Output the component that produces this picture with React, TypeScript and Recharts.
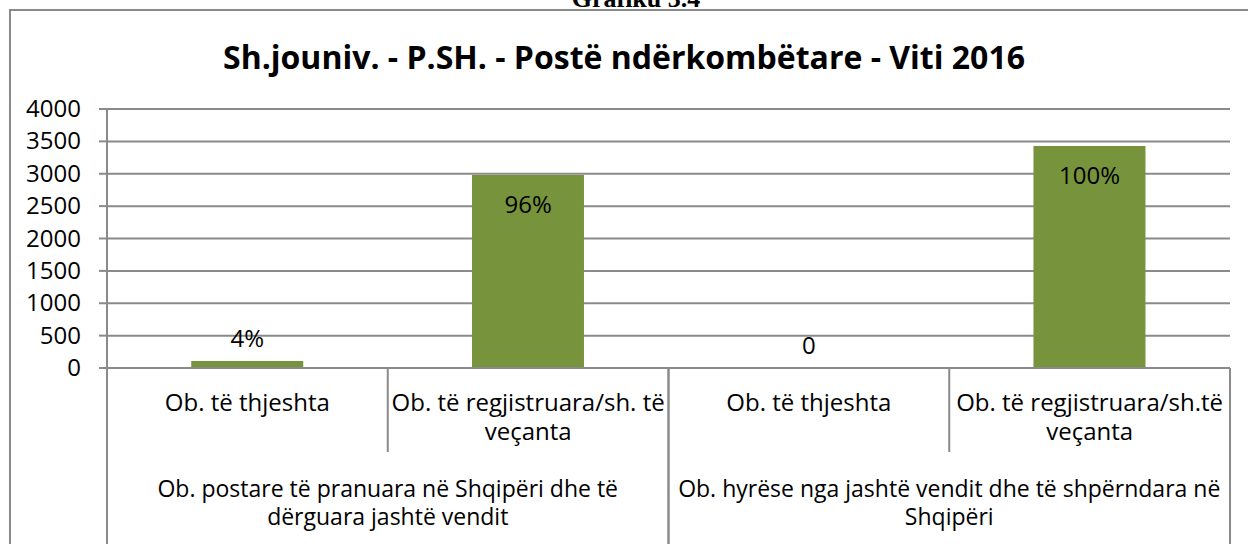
import React from 'react';
import { ComposedChart, Bar, Line, XAxis, YAxis, CartesianGrid, LabelList } from 'recharts';

// categories (leaf level), line breaks as in the original chart
const categories = [
  'Ob. të thjeshta',
  'Ob. të regjistruara/sh. të\nveçanta',
  'Ob. të thjeshta',
  'Ob. të regjistruara/sh.të\nveçanta',
];
const groups = [
  'Ob. postare të pranuara në Shqipëri dhe të\ndërguara jashtë vendit',
  'Ob. hyrëse nga jashtë vendit dhe të shpërndara në\nShqipëri',
];
const groupOf = [0, 0, 1, 1];
const values = [110, 2980, 0, 3430];
const valueLabels = ['4%', '96%', '0', '100%'];
const yTicks = [0, 500, 1000, 1500, 2000, 2500, 3000, 3500, 4000];

const data = categories.map((c, i) => ({
  id: i,
  name: c,
  group: groups[groupOf[i]],
  value: values[i],
  label: valueLabels[i],
}));

const W = 1248;
const H = 544;
const FONT = '"Open Sans", "Noto Sans", sans-serif';
const LINE = '#8a8a8a';
const LEAF_H = 84;
const GROUP_H = 92;
const PLOT_L = 107;
const PLOT_R = 1230;
const BAND = (PLOT_R - PLOT_L) / categories.length;

function LeafTick(props: any) {
  const { x, y, payload } = props;
  const i = Number(payload.value);
  const half = payload.offset || BAND / 2;
  const lines = (categories[i] || '').split('\n');
  const divider = i < categories.length - 1 && groupOf[i] === groupOf[i + 1];
  return (
    <g>
      {divider && (
        <line x1={x + half} x2={x + half} y1={y} y2={y + LEAF_H} stroke={LINE} strokeWidth={2} />
      )}
      <text x={x} y={y + 43} textAnchor="middle" fontFamily={FONT} fontSize={24} fill="#000">
        {lines.map((l, k) => (
          <tspan key={k} x={x} dy={k === 0 ? 0 : 29}>
            {l}
          </tspan>
        ))}
      </text>
    </g>
  );
}

function GroupTick(props: any) {
  const { x, y, payload } = props;
  const half = payload.offset || BAND;
  const lines = String(payload.value).split('\n');
  return (
    <g>
      <line x1={x - half} x2={x - half} y1={y - LEAF_H} y2={y + GROUP_H} stroke={LINE} strokeWidth={2} />
      <line x1={x + half} x2={x + half} y1={y - LEAF_H} y2={y + GROUP_H} stroke={LINE} strokeWidth={2} />
      <text x={x} y={y + 45} textAnchor="middle" fontFamily={FONT} fontSize={23} fill="#000">
        {lines.map((l, k) => (
          <tspan key={k} x={x} dy={k === 0 ? 0 : 28}>
            {l}
          </tspan>
        ))}
      </text>
    </g>
  );
}

function YTick(props: any) {
  const { x, y, payload } = props;
  return (
    <text x={x} y={y} dy={8} textAnchor="end" fontFamily={FONT} fontSize={24} fill="#000">
      {payload.value}
    </text>
  );
}

// label sits above short bars, inside the top of tall ones
function ValueLabel(props: any) {
  const { x, y, index, value } = props;
  const v = values[Number(index)] ?? 0;
  const inside = v > 600;
  return (
    <text
      x={Number(x)}
      y={inside ? Number(y) + 38 : Number(y) - 14}
      textAnchor="middle"
      fontFamily={FONT}
      fontSize={24}
      fill="#000"
    >
      {value}
    </text>
  );
}

export default function App() {
  return (
    <div style={{ position: 'fixed', left: 0, top: 0, width: W, height: H, overflow: 'hidden', background: '#fff' }}>
      <div
        style={{
          position: 'absolute',
          left: 9,
          top: 9,
          width: W + 40,
          height: H + 40,
          border: `2px solid ${LINE}`,
          boxSizing: 'border-box',
        }}
      />
      <svg width={W} height={H} style={{ position: 'absolute', left: 0, top: 0 }}>
        <text x={636} y={7} textAnchor="middle" fontFamily='"Liberation Serif", serif' fontWeight="bold" fontSize={26}>
          Grafiku 3.4
        </text>
        <text x={624} y={69} textAnchor="middle" fontFamily={FONT} fontWeight="bold" fontSize={32} fill="#000">
          Sh.jouniv. - P.SH. - Postë ndërkombëtare - Viti 2016
        </text>
      </svg>
      <div style={{ position: 'absolute', left: 0, top: 0 }}>
        <ComposedChart
          width={W}
          height={H}
          data={data}
          margin={{ top: 109, right: W - PLOT_R, left: 0, bottom: 0 }}
          barCategoryGap="30%"
        >
          <CartesianGrid vertical={false} stroke={LINE} strokeWidth={2} />
          <XAxis
            dataKey="id"
            height={LEAF_H}
            interval={0}
            tickLine={false}
            axisLine={{ stroke: LINE, strokeWidth: 2 }}
            tickSize={0}
            tickMargin={0}
            tick={<LeafTick />}
          />
          <XAxis
            xAxisId="grp"
            dataKey="group"
            allowDuplicatedCategory={false}
            height={GROUP_H}
            interval={0}
            tickLine={false}
            axisLine={false}
            tickSize={0}
            tickMargin={0}
            tick={<GroupTick />}
          />
          <YAxis
            width={PLOT_L}
            domain={[0, 4000]}
            ticks={yTicks}
            interval={0}
            tickSize={8}
            tickMargin={18}
            axisLine={{ stroke: LINE, strokeWidth: 2 }}
            tickLine={{ stroke: LINE, strokeWidth: 2 }}
            tick={<YTick />}
          />
          <Bar dataKey="value" fill="#77933C" isAnimationActive={false} />
          <Line
            dataKey="value"
            stroke="none"
            dot={false}
            activeDot={false}
            legendType="none"
            isAnimationActive={false}
          >
            <LabelList dataKey="label" content={<ValueLabel />} />
          </Line>
        </ComposedChart>
      </div>
    </div>
  );
}
